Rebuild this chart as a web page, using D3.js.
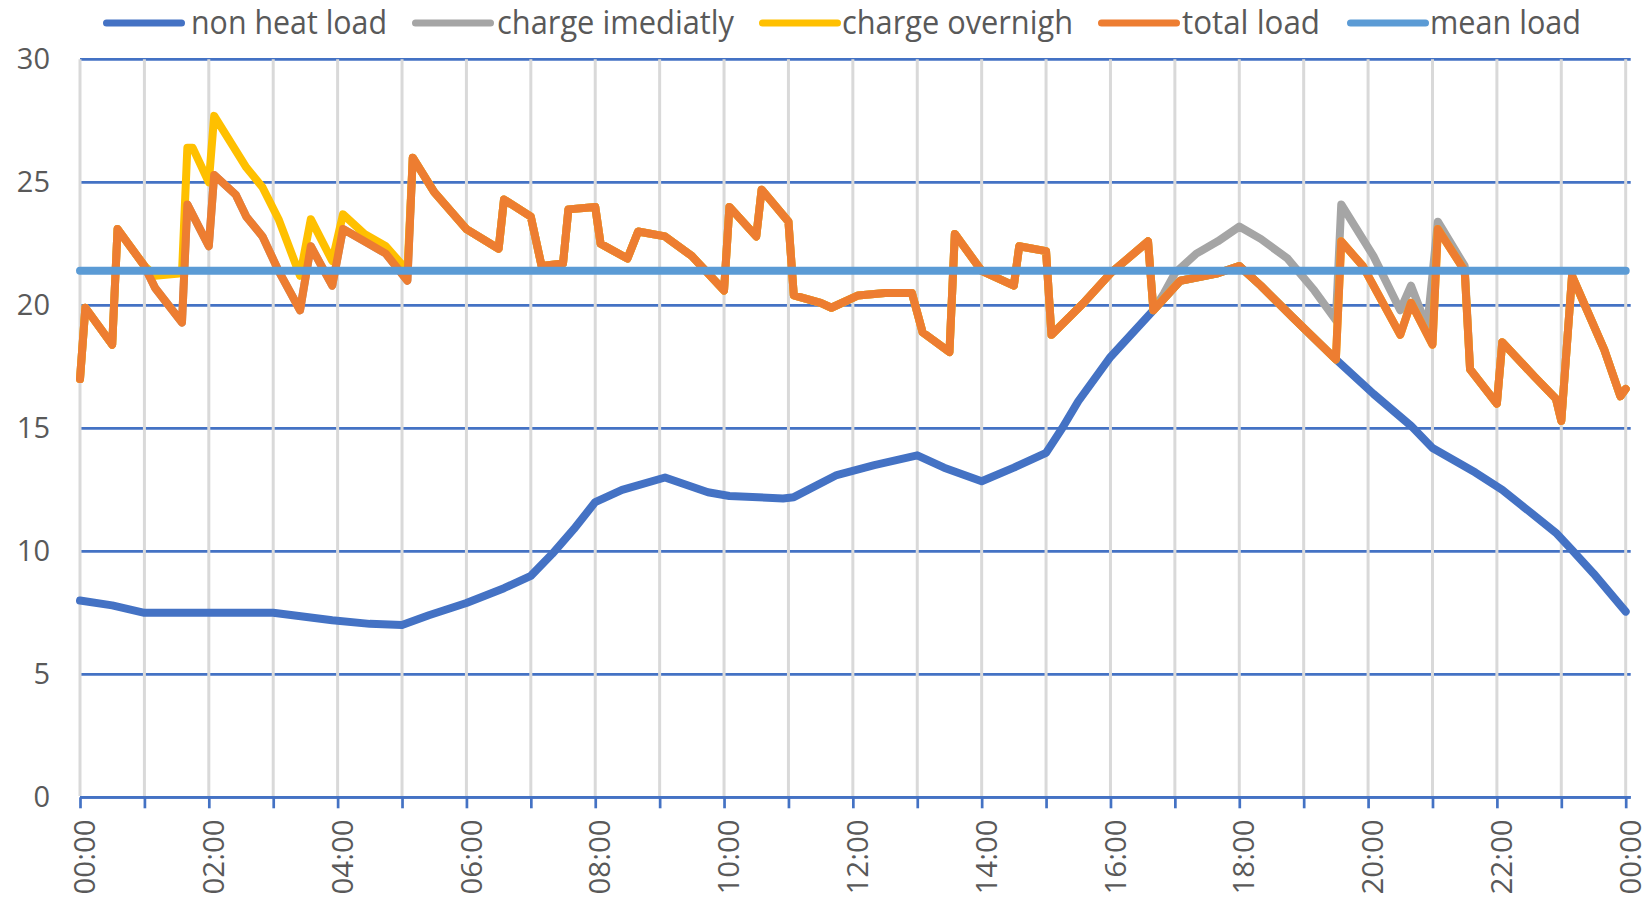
<!DOCTYPE html>
<html>
<head>
<meta charset="utf-8">
<script src="https://cdn.jsdelivr.net/npm/d3@7"></script>
<style>
  body { margin: 0; background: #fff; }
  text { font-family: "Open Sans", sans-serif; fill: #595959; }
</style>
</head>
<body>
<div id="chart"></div>
<script>
// [minutes after midnight, load]
const nonHeatLoad = [
  [0, 8.0], [30, 7.8], [60, 7.5], [180, 7.5], [235, 7.2], [270, 7.05], [300, 7.0], [325, 7.4],
  [360, 7.9], [395, 8.5], [420, 9.0], [440, 9.9], [460, 10.9], [480, 12.0], [505, 12.5], [545, 13.0],
  [585, 12.4], [605, 12.25], [655, 12.15], [665, 12.2], [705, 13.1], [740, 13.5], [780, 13.9],
  [805, 13.4], [840, 12.85], [870, 13.4], [900, 14.0], [915, 15.0], [930, 16.1], [960, 17.9],
  [1000, 19.8], [1025, 21.0], [1060, 21.3], [1080, 21.6], [1100, 20.8], [1130, 19.5], [1170, 17.8],
  [1205, 16.4], [1240, 15.1], [1260, 14.2], [1280, 13.7], [1300, 13.2], [1325, 12.5], [1345, 11.8],
  [1375, 10.75], [1390, 10.05], [1410, 9.1], [1440, 7.55]
]

const chargeImmediately = [
  [0, 17.0], [5, 19.9], [30, 18.4], [35, 23.1], [60, 21.6], [70, 20.7], [95, 19.3], [100, 24.1],
  [120, 22.4], [125, 25.3], [145, 24.5], [155, 23.6], [170, 22.8], [185, 21.4], [205, 19.8],
  [215, 22.4], [235, 20.8], [245, 23.1], [265, 22.6], [285, 22.1], [305, 21.0], [310, 26.0],
  [330, 24.6], [360, 23.1], [390, 22.3], [395, 24.3], [420, 23.6], [430, 21.6], [450, 21.7],
  [455, 23.9], [480, 24.0], [485, 22.5], [510, 21.9], [520, 23.0], [545, 22.8], [570, 22.0],
  [600, 20.6], [605, 24.0], [630, 22.8], [635, 24.7], [660, 23.4], [665, 20.4], [690, 20.1],
  [700, 19.9], [725, 20.4], [750, 20.5], [775, 20.5], [785, 18.9], [810, 18.1], [815, 22.9],
  [840, 21.4], [870, 20.8], [875, 22.4], [900, 22.2], [905, 18.8], [935, 20.1], [960, 21.3],
  [995, 22.6], [1000, 19.8], [1010, 20.5], [1020, 21.3], [1040, 22.1], [1060, 22.6], [1080, 23.2],
  [1100, 22.7], [1125, 21.9], [1150, 20.6], [1170, 19.4], [1175, 24.1], [1205, 22.0], [1230, 19.8],
  [1240, 20.8], [1255, 19.1], [1265, 23.4], [1290, 21.6], [1295, 17.4], [1320, 16.0], [1325, 18.5],
  [1355, 17.1], [1375, 16.2], [1380, 15.3], [1390, 21.2], [1420, 18.2], [1435, 16.3], [1440, 16.6]
]

const chargeOvernight = [
  [0, 17.0], [5, 19.9], [30, 18.4], [35, 23.1], [60, 21.6], [70, 21.2], [95, 21.3], [100, 26.4],
  [105, 26.4], [120, 25.0], [125, 27.7], [155, 25.6], [170, 24.8], [185, 23.5], [205, 21.2],
  [215, 23.5], [235, 21.8], [245, 23.7], [265, 22.9], [285, 22.4], [305, 21.4], [310, 26.0],
  [330, 24.6], [360, 23.1], [390, 22.3], [395, 24.3], [420, 23.6], [430, 21.6], [450, 21.7],
  [455, 23.9], [480, 24.0], [485, 22.5], [510, 21.9], [520, 23.0], [545, 22.8], [570, 22.0],
  [600, 20.6], [605, 24.0], [630, 22.8], [635, 24.7], [660, 23.4], [665, 20.4], [690, 20.1],
  [700, 19.9], [725, 20.4], [750, 20.5], [775, 20.5], [785, 18.9], [810, 18.1], [815, 22.9],
  [840, 21.4], [870, 20.8], [875, 22.4], [900, 22.2], [905, 18.8], [935, 20.1], [960, 21.3],
  [995, 22.6], [1000, 19.8], [1025, 21.0], [1060, 21.3], [1080, 21.6], [1100, 20.8], [1130, 19.5],
  [1170, 17.8], [1175, 22.6], [1195, 21.6], [1230, 18.8], [1240, 20.1], [1260, 18.4], [1265, 23.1],
  [1290, 21.4], [1295, 17.4], [1320, 16.0], [1325, 18.5], [1355, 17.1], [1375, 16.2], [1380, 15.3],
  [1390, 21.2], [1420, 18.2], [1435, 16.3], [1440, 16.6]
]

const totalLoad = [
  [0, 17.0], [5, 19.9], [30, 18.4], [35, 23.1], [60, 21.6], [70, 20.7], [95, 19.3], [100, 24.1],
  [120, 22.4], [125, 25.3], [145, 24.5], [155, 23.6], [170, 22.8], [185, 21.4], [205, 19.8],
  [215, 22.4], [235, 20.8], [245, 23.1], [265, 22.6], [285, 22.1], [305, 21.0], [310, 26.0],
  [330, 24.6], [360, 23.1], [390, 22.3], [395, 24.3], [420, 23.6], [430, 21.6], [450, 21.7],
  [455, 23.9], [480, 24.0], [485, 22.5], [510, 21.9], [520, 23.0], [545, 22.8], [570, 22.0],
  [600, 20.6], [605, 24.0], [630, 22.8], [635, 24.7], [660, 23.4], [665, 20.4], [690, 20.1],
  [700, 19.9], [725, 20.4], [750, 20.5], [775, 20.5], [785, 18.9], [810, 18.1], [815, 22.9],
  [840, 21.4], [870, 20.8], [875, 22.4], [900, 22.2], [905, 18.8], [935, 20.1], [960, 21.3],
  [995, 22.6], [1000, 19.8], [1025, 21.0], [1060, 21.3], [1080, 21.6], [1100, 20.8], [1130, 19.5],
  [1170, 17.8], [1175, 22.6], [1195, 21.6], [1230, 18.8], [1240, 20.1], [1260, 18.4], [1265, 23.1],
  [1290, 21.4], [1295, 17.4], [1320, 16.0], [1325, 18.5], [1355, 17.1], [1375, 16.2], [1380, 15.3],
  [1390, 21.2], [1420, 18.2], [1435, 16.3], [1440, 16.6]
]

const meanLoad = [[0, 21.4], [1440, 21.4]]

const yTicks = [0, 5, 10, 15, 20, 25, 30]
const hourTicks = d3.range(0, 1441, 60)
const labelTicks = d3.range(0, 1441, 120)

const seriesNames = ["non heat load", "charge imediatly", "charge overnigh", "total load", "mean load"]
const seriesColors = ["#4472C4", "#A5A5A5", "#FFC000", "#ED7D31", "#5B9BD5"]
const seriesData = [nonHeatLoad, chargeImmediately, chargeOvernight, totalLoad, meanLoad]

const WIDTH = 1647, HEIGHT = 901
const LEFT = 80, RIGHT = 1625.7, TOP = 59.3, BOTTOM = 797.3

const svg = d3.select("#chart").append("svg")
  .attr("width", WIDTH)
  .attr("height", HEIGHT)

const x = d3.scaleLinear().domain([0, 1440]).range([LEFT, RIGHT])
const y = d3.scaleLinear().domain([0, 30]).range([BOTTOM, TOP])

// horizontal gridlines (blue), under the vertical ones
svg.append("g").selectAll("line")
  .data(yTicks)
  .enter().append("line")
  .attr("x1", LEFT)
  .attr("x2", RIGHT + 5)
  .attr("y1", d => y(d))
  .attr("y2", d => y(d))
  .attr("stroke", "#4472C4")
  .attr("stroke-width", 2.7)

// vertical gridlines
svg.append("g").selectAll("line")
  .data(hourTicks)
  .enter().append("line")
  .attr("x1", d => x(d))
  .attr("x2", d => x(d))
  .attr("y1", TOP)
  .attr("y2", BOTTOM - 1.3)
  .attr("stroke", "#D9D9D9")
  .attr("stroke-width", 3)

// x axis
const fmt = m => d3.format("02")(Math.floor(m / 60) % 24) + ":00"
const xAxisCall = d3.axisBottom(x)
  .tickValues(hourTicks)
  .tickSize(11)
  .tickFormat(d => labelTicks.includes(d) ? fmt(d) : "")

const xAxis = svg.append("g")
  .attr("transform", `translate(0, ${BOTTOM})`)
  .call(xAxisCall)
xAxis.select(".domain").remove()
xAxis.selectAll(".tick line")
  .attr("stroke", "#4472C4")
  .attr("stroke-width", 2.7)
xAxis.selectAll(".tick text")
  .attr("transform", "rotate(-90)")
  .attr("x", -22)
  .attr("y", 4)
  .attr("dy", "0.36em")
  .attr("text-anchor", "end")
  .attr("font-size", "29.5px")
  .attr("fill", "#595959")
  .attr("font-family", "Open Sans, sans-serif")

svg.append("line")
  .attr("x1", LEFT)
  .attr("x2", RIGHT + 5)
  .attr("y1", BOTTOM)
  .attr("y2", BOTTOM)
  .attr("stroke", "#4472C4")
  .attr("stroke-width", 2.7)

// y axis
const yAxis = svg.append("g")
  .attr("transform", `translate(${LEFT}, 0)`)
  .call(d3.axisLeft(y).tickValues(yTicks).tickSize(0).tickPadding(30))
yAxis.select(".domain").remove()
yAxis.selectAll(".tick text")
  .attr("font-size", "29px")
  .attr("fill", "#595959")
  .attr("font-family", "Open Sans, sans-serif")

// series
const line = d3.line()
  .x(d => x(d[0]))
  .y(d => y(d[1]))

seriesData.forEach((data, i) => {
  svg.append("path")
    .datum(data)
    .attr("d", line)
    .attr("fill", "none")
    .attr("stroke", seriesColors[i])
    .attr("stroke-width", 8)
    .attr("stroke-linejoin", "round")
    .attr("stroke-linecap", "round")
})

// legend
const legendX = [103, 412, 759, 1098, 1347]
const legendTextX = [191, 497, 842, 1182, 1430]
const legendTextW = [196, 237, 231, 138, 151]
const legend = svg.append("g")
seriesNames.forEach((name, i) => {
  legend.append("line")
    .attr("x1", legendX[i] + 3.5)
    .attr("x2", legendX[i] + 78.5)
    .attr("y1", 23)
    .attr("y2", 23)
    .attr("stroke", seriesColors[i])
    .attr("stroke-width", 7)
    .attr("stroke-linecap", "round")
  legend.append("text")
    .attr("x", legendTextX[i])
    .attr("y", 33.5)
    .attr("font-size", "32px")
    .attr("textLength", legendTextW[i])
    .attr("lengthAdjust", "spacingAndGlyphs")
    .text(name)
})
</script>
</body>
</html>
